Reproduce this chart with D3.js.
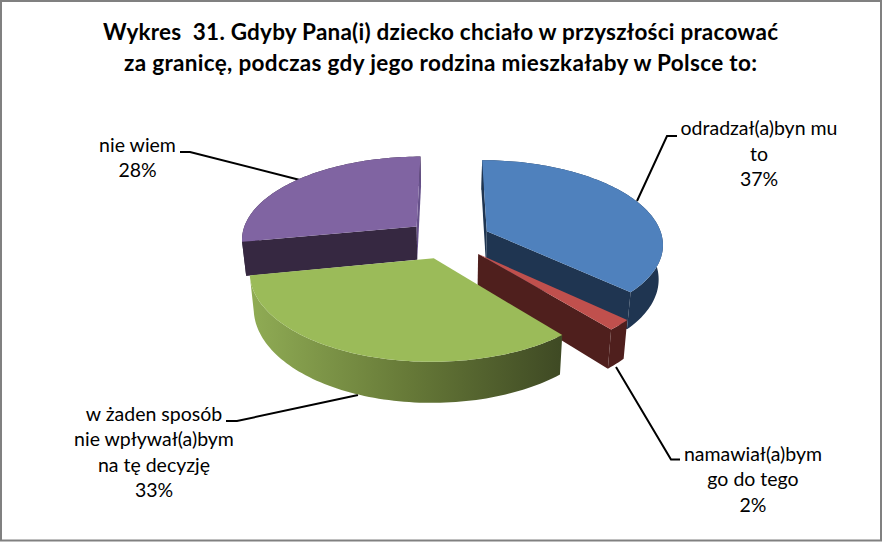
<!DOCTYPE html>
<html>
<head>
<meta charset="utf-8">
<script src="https://cdn.jsdelivr.net/npm/d3@7"></script>
<style>
  html, body { margin: 0; padding: 0; background: #fff; }
  svg { display: block; }
  text { font-family: Lato, "Open Sans", sans-serif; fill: #000; }
</style>
</head>
<body>
<svg id="chart" width="883" height="542"></svg>
<script>
// values
var categories = ["odradzał(a)byn mu to", "namawiał(a)bym go do tego", "w żaden sposób nie wpływał(a)bym na tę decyzję", "nie wiem"];
var percents = [37, 2, 33, 28];
var titleLines = ["Wykres  31. Gdyby Pana(i) dziecko chciało w przyszłości pracować", "za granicę, podczas gdy jego rodzina mieszkałaby w Polsce to:"];
var labelLines = [["odradzał(a)byn mu", "to"], ["namawiał(a)bym", "go do tego"], ["w żaden sposób", "nie wpływał(a)bym", "na tę decyzję"], ["nie wiem"]];

var topColors = ["#4f81bd", "#c0504d", "#9bbb59", "#8064a2"];
var wallColors = ["#1f3551", "#4f1f1d", "url(#greenWall)", "#362841"];
var drawOrder = [3, 0, 1, 2];

// label placing (center x, first baseline) and leader lines
var titleWidths = [675, 633];
var labelPos = [[759, 135], [753, 460.5], [154, 420.5], [137.5, 151.5]];
var leaders = [
  [[637, 201], [667, 136], [677, 136]],
  [[616, 367], [671, 459.5], [680, 459.5]],
  [[358, 395], [237, 421], [226, 421]],
  [[300, 180], [190, 152], [180, 152]]
];

var svg = d3.select("#chart");

//frame
svg.append("rect")
  .attr("x", 1).attr("y", 1).attr("width", 880).attr("height", 539.5)
  .attr("fill", "#fff").attr("stroke", "#808080").attr("stroke-width", 2);

var defs = svg.append("defs");
var grad = defs.append("linearGradient")
  .attr("id", "greenWall").attr("gradientUnits", "userSpaceOnUse")
  .attr("x1", 253).attr("x2", 560).attr("y1", 0).attr("y2", 0);
grad.append("stop").attr("offset", 0).attr("stop-color", "#8fab54");
grad.append("stop").attr("offset", 0.5).attr("stop-color", "#677a38");
grad.append("stop").attr("offset", 1).attr("stop-color", "#3f4a24");

//title
svg.append("g").selectAll("text").data(titleLines).enter().append("text")
  .attr("x", 440.5).attr("y", function(d, i) { return 39.5 + i * 31; })
  .attr("text-anchor", "middle")
  .attr("textLength", function(d, i) { return titleWidths[i]; })
  .attr("lengthAdjust", "spacing")
  .style("white-space", "pre")
  .style("font-weight", "700").style("font-size", "22.5px")
  .text(function(d) { return d; });

//leader lines go under the pie
var line = d3.line();
svg.append("g").selectAll("path").data(leaders).enter().append("path")
  .attr("d", line).attr("fill", "none").attr("stroke", "#000").attr("stroke-width", 2);

// pie projection: unit circle on a ground plane seen in perspective
var cx = 448.5, cy = 239, rx = 176, ry = 83, depth = 34, persp = 0.14, explode = 0.24;

function project(mid, angle, level) {
  var x = explode * Math.sin(mid) + (angle === null ? 0 : Math.sin(angle));
  var y = -explode * Math.cos(mid) + (angle === null ? 0 : -Math.cos(angle));
  var s = 1 / (1 - persp * y);
  return [cx + rx * x * s * (1 - 0.02 * level), cy + ry * y * s + depth * level * s];
}

var pie = d3.pie().sort(null).value(function(d) { return d; });
var arcs = pie(percents);
var polygon = d3.line().curve(d3.curveLinearClosed);

function rimPoints(d, mid, level) {
  var n = Math.max(4, Math.ceil((d.endAngle - d.startAngle) * 40));
  return d3.range(n + 1).map(function(i) {
    return project(mid, d.startAngle + (d.endAngle - d.startAngle) * i / n, level);
  });
}

var pieG = svg.append("g");
drawOrder.forEach(function(k) {
  var d = arcs[k], mid = (d.startAngle + d.endAngle) / 2;
  var g = pieG.append("g");
  var topRim = rimPoints(d, mid, 0), lowRim = rimPoints(d, mid, 1);

  g.append("path").attr("d", polygon(topRim.concat(lowRim.slice().reverse()))).attr("fill", wallColors[k]);

  // start and end cut faces, only when they turn to the viewer
  var faceColor = k == 2 ? "#3f4a24" : wallColors[k];
  var startFace = [project(mid, null, 0), project(mid, d.startAngle, 0), project(mid, d.startAngle, 1), project(mid, null, 1)];
  var endFace = [project(mid, null, 0), project(mid, d.endAngle, 0), project(mid, d.endAngle, 1), project(mid, null, 1)];
  if (d3.polygonArea(startFace) > 0) {
    g.append("path").attr("d", polygon(startFace)).attr("fill", faceColor);
  }
  if (d3.polygonArea(endFace) < 0) {
    // the purple sliver at the back is lit, not dark
    g.append("path").attr("d", polygon(endFace)).attr("fill", k == 3 ? "#66518a" : faceColor);
  }

  g.append("path").attr("d", polygon([project(mid, null, 0)].concat(topRim))).attr("fill", topColors[k]);
});

//labels
var labelG = svg.append("g");
labelLines.forEach(function(lines, k) {
  var all = lines.concat([percents[k] + "%"]);
  labelG.selectAll("text.l" + k).data(all).enter().append("text")
    .attr("class", "l" + k)
    .attr("x", labelPos[k][0])
    .attr("y", function(d, i) { return labelPos[k][1] + i * 25.6; })
    .attr("text-anchor", "middle")
    .style("font-size", "19.5px")
    .text(function(d) { return d; });
});
</script>
</body>
</html>
